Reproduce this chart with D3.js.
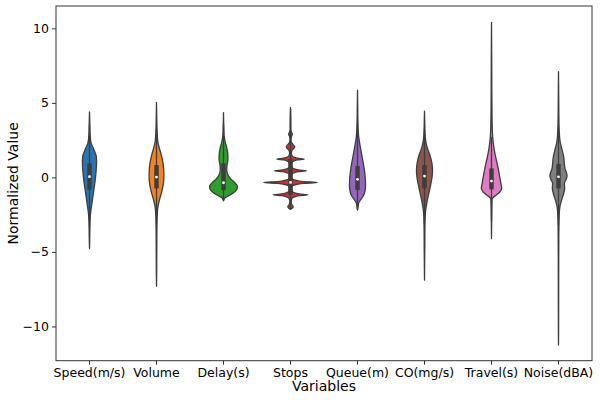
<!DOCTYPE html>
<html>
<head>
<meta charset="utf-8">
<script src="https://cdn.jsdelivr.net/npm/d3@7"></script>
<style>
  html, body { margin: 0; padding: 0; background: #fff; }
  svg { display: block; font-family: "DejaVu Sans", sans-serif; }
</style>
</head>
<body>
<svg id="chart" width="600" height="400"></svg>
<script>
// ---- data ----
const categories = ["Speed(m/s)", "Volume", "Delay(s)", "Stops", "Queue(m)", "CO(mg/s)", "Travel(s)", "Noise(dBA)"];
const colors = ["#2a75b0", "#f5821f", "#2f9e2f", "#d22f30", "#9467bd", "#8c564b", "#e07cc4", "#7f7f7f"];
const yTicks = [-10, -5, 0, 5, 10];
const yDomain = [-12.3, 11.5];

// density profiles: [value, relative density]
const speedDensity = [[4.4,0],[3.6,0.012],[2.8,0.025],[2.3,0.06],[2.0,0.13],[1.7,0.2],[1.4,0.255],[1.0,0.265],[0.5,0.25],[0,0.225],[-0.5,0.19],[-1.0,0.15],[-1.5,0.11],[-2.0,0.07],[-2.4,0.04],[-3.0,0.02],[-4.0,0.01],[-4.77,0]];
const volumeDensity = [[5.03,0],[4,0.01],[3,0.025],[2.4,0.05],[2.0,0.1],[1.5,0.18],[1.0,0.24],[0.5,0.27],[0,0.275],[-0.5,0.25],[-1.0,0.19],[-1.5,0.11],[-2.0,0.05],[-2.5,0.03],[-3.5,0.015],[-5,0.01],[-6.5,0.006],[-7.3,0]];
const delayDensity = [[4.35,0],[3.5,0.01],[2.8,0.025],[2.4,0.06],[2.0,0.12],[1.6,0.16],[1.2,0.165],[0.8,0.13],[0.5,0.12],[0.2,0.16],[-0.1,0.27],[-0.35,0.42],[-0.6,0.52],[-0.8,0.5],[-1.0,0.4],[-1.2,0.22],[-1.35,0.08],[-1.45,0.03],[-1.57,0]];
const stopsDensity = [[4.7,0],[4.0,0.01],[3.2,0.015],[3.05,0.035],[2.9,0.07],[2.75,0.035],[2.5,0.02],[2.3,0.05],[2.18,0.11],[2.05,0.16],[1.92,0.11],[1.8,0.05],[1.6,0.035],[1.45,0.06],[1.35,0.14],[1.29,0.26],[1.23,0.52],[1.17,0.26],[1.11,0.14],[1.01,0.06],[0.84,0.04],[0.66,0.06],[0.56,0.16],[0.5,0.3],[0.44,0.6],[0.38,0.3],[0.32,0.16],[0.22,0.06],[0.05,0.045],[-0.12,0.08],[-0.22,0.26],[-0.28,0.5],[-0.34,1.0],[-0.4,0.5],[-0.46,0.26],[-0.56,0.08],[-0.75,0.045],[-0.95,0.07],[-1.05,0.18],[-1.11,0.33],[-1.17,0.65],[-1.23,0.33],[-1.29,0.18],[-1.39,0.06],[-1.6,0.025],[-1.82,0.045],[-1.9,0.08],[-1.97,0.1],[-2.04,0.08],[-2.1,0.04],[-2.15,0]];
const queueDensity = [[5.86,0],[4.5,0.01],[3.5,0.02],[2.8,0.04],[2.3,0.08],[1.8,0.13],[1.3,0.18],[0.8,0.23],[0.3,0.27],[-0.2,0.295],[-0.6,0.3],[-1.0,0.27],[-1.3,0.2],[-1.55,0.1],[-1.75,0.04],[-2.0,0.02],[-2.2,0]];
const coDensity = [[4.45,0],[3.5,0.012],[2.8,0.025],[2.3,0.06],[1.9,0.12],[1.5,0.2],[1.0,0.27],[0.5,0.3],[0,0.28],[-0.5,0.23],[-1.0,0.17],[-1.5,0.11],[-2.0,0.06],[-2.5,0.03],[-3.5,0.015],[-5,0.01],[-6.9,0]];
const travelDensity = [[10.4,0],[8,0.008],[6,0.012],[4,0.02],[3,0.035],[2.4,0.06],[2.0,0.09],[1.5,0.14],[1.0,0.2],[0.5,0.26],[0,0.31],[-0.4,0.35],[-0.75,0.38],[-1.0,0.3],[-1.2,0.17],[-1.35,0.06],[-1.5,0.02],[-2.5,0.01],[-4.1,0]];
const noiseDensity = [[7.1,0],[5.5,0.008],[4,0.015],[3,0.03],[2.4,0.06],[1.8,0.14],[1.3,0.2],[0.9,0.22],[0.6,0.24],[0.3,0.3],[0.1,0.32],[-0.15,0.28],[-0.4,0.22],[-0.75,0.23],[-1.1,0.19],[-1.5,0.12],[-2.0,0.05],[-2.6,0.025],[-4,0.012],[-6,0.008],[-8,0.006],[-10,0.004],[-11.25,0]];

// box stats: q1, median, q3, whisker low, whisker high
const q1 = [-0.83, -0.74, -0.85, -1.17, -0.85, -0.74, -0.8, -0.74];
const medians = [0.05, 0.02, -0.36, -0.34, -0.13, 0.09, -0.25, 0.04];
const q3 = [0.94, 0.83, 0.94, 1.23, 0.76, 0.83, 0.6, 0.9];
const whiskerLow = [-3.4, -3.1, -1.57, -2.15, -2.2, -3.1, -2.9, -3.2];
const whiskerHigh = [3.5, 3.2, 3.6, 4.6, 3.2, 3.2, 2.7, 3.3];

const densities = [speedDensity, volumeDensity, delayDensity, stopsDensity, queueDensity, coDensity, travelDensity, noiseDensity];

// ---- layout ----
const margin = { left: 56, right: 8, top: 6, bottom: 39.3 };
const W = 600, H = 400;
const svg = d3.select("#chart");

const x = d3.scaleBand().domain(categories).range([margin.left, W - margin.right]).padding(0);
const y = d3.scaleLinear().domain(yDomain).range([H - margin.bottom, margin.top]);
const w = d3.scaleLinear().domain([0, 1]).range([0, x.bandwidth() * 0.4]);

const edge = "#3d3d3d";

const g = svg.append("g");

categories.forEach((cat, i) => {
  const cx = x(cat) + x.bandwidth() / 2;
  const area = d3.area()
    .curve(d3.curveMonotoneY)
    .y(d => y(d[0]))
    .x0(d => cx - w(d[1]))
    .x1(d => cx + w(d[1]));
  g.append("path")
    .datum(densities[i].slice().sort((a, b) => b[0] - a[0]))
    .attr("d", area)
    .attr("fill", colors[i])
    .attr("stroke", edge)
    .attr("stroke-width", 1.3)
    .attr("stroke-linejoin", "round");
  // whisker
  g.append("line")
    .attr("x1", cx).attr("x2", cx)
    .attr("y1", y(whiskerLow[i])).attr("y2", y(whiskerHigh[i]))
    .attr("stroke", edge).attr("stroke-width", 1.3);
  // box
  g.append("rect")
    .attr("x", cx - 2.2).attr("width", 4.4)
    .attr("y", y(q3[i])).attr("height", y(q1[i]) - y(q3[i]))
    .attr("fill", edge);
  // median
  g.append("circle")
    .attr("cx", cx).attr("cy", y(medians[i])).attr("r", 1.4)
    .attr("fill", "#fff");
});

// ---- axes ----
const axisColor = "#333";
const yAxis = svg.append("g")
  .attr("transform", `translate(${margin.left},0)`)
  .call(d3.axisLeft(y).tickValues(yTicks).tickSize(4).tickPadding(3).tickFormat(d3.format("d")));
const xAxis = svg.append("g")
  .attr("transform", `translate(0,${H - margin.bottom})`)
  .call(d3.axisBottom(x).tickSize(4).tickPadding(3));
[yAxis, xAxis].forEach(a => {
  a.select(".domain").remove();
  a.selectAll(".tick line").attr("stroke", axisColor);
  a.selectAll(".tick text").attr("fill", "#000").style("font-size", "12.5px").style("font-family", "'DejaVu Sans', sans-serif");
});

// frame
svg.append("rect")
  .attr("x", margin.left).attr("y", margin.top)
  .attr("width", W - margin.left - margin.right)
  .attr("height", H - margin.top - margin.bottom)
  .attr("fill", "none").attr("stroke", axisColor).attr("stroke-width", 1);

// labels
svg.append("text")
  .attr("x", (margin.left + W - margin.right) / 2)
  .attr("y", 391)
  .attr("text-anchor", "middle")
  .style("font-size", "14px")
  .text("Variables");
svg.append("text")
  .attr("transform", `translate(18,${(margin.top + H - margin.bottom) / 2}) rotate(-90)`)
  .attr("text-anchor", "middle")
  .style("font-size", "14px")
  .text("Normalized Value");
</script>
</body>
</html>
